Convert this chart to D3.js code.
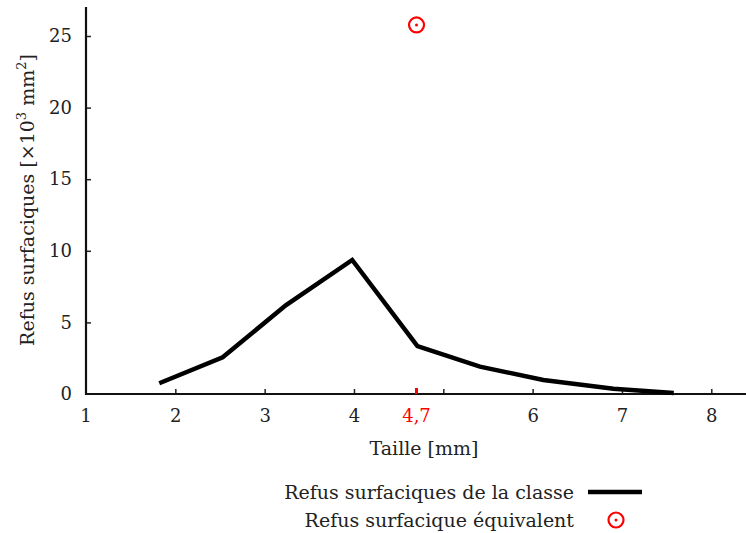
<!DOCTYPE html>
<html><head><meta charset="utf-8">
<script src="https://cdn.jsdelivr.net/npm/d3@7"></script>
<style>body{margin:0;background:#fff}svg{display:block}text{font-family:"DejaVu Serif",serif;fill:#222}</style>
</head><body><svg id="c" width="746" height="533"></svg>
<script>
const sizes = [1.82, 2.53, 3.24, 3.98, 4.71, 5.41, 6.12, 6.905, 7.58];
const refus = [0.75, 2.56, 6.21, 9.36, 3.35, 1.91, 0.98, 0.37, 0.07];
const equivSize = [4.7];
const equivRefus = [25.77];
const xTicks = [1, 2, 3, 4, 5, 6, 7, 8];
const yTicks = [0, 5, 10, 15, 20, 25];
const legendLabels = ["Refus surfaciques de la classe", "Refus surfacique équivalent"];

const TF = "18px", LF = "19px";
const svg = d3.select("#c");
const x = d3.scaleLinear().domain([1, 8]).range([86, 711.3]);
const y = d3.scaleLinear().domain([0, 25]).range([394, 36]);
const xEnd = 746, yTop = y(27.03);

// axes
const xAxis = svg.append("g").attr("transform", `translate(0,${y(0)})`)
  .call(d3.axisBottom(x).tickValues(xTicks.filter(t => t !== 1)).tickSize(-5).tickPadding(15)
    .tickFormat(d => d === 5 ? "" : d3.format("d")(d)));
xAxis.select(".domain").remove();
xAxis.selectAll("line").attr("stroke", "#222").attr("stroke-width", 1.5);
xAxis.selectAll("text").style("font-size", TF).attr("dy", "0.71em");
svg.append("text").attr("x", x(1)).attr("y", y(0) + 15).attr("dy", "0.71em")
  .attr("text-anchor", "middle").style("font-size", TF).text("1");

const yAxis = svg.append("g").attr("transform", `translate(${x(1)},0)`)
  .call(d3.axisLeft(y).tickValues(yTicks.filter(t => t !== 0)).tickSize(-5).tickPadding(14));
yAxis.select(".domain").remove();
yAxis.selectAll("line").attr("stroke", "#222").attr("stroke-width", 1.5);
yAxis.selectAll("text").style("font-size", TF);
svg.append("text").attr("x", x(1) - 14).attr("y", y(0)).attr("dy", "0.32em")
  .attr("text-anchor", "end").style("font-size", TF).text("0");

svg.append("line").attr("x1", x(1)).attr("x2", xEnd).attr("y1", y(0)).attr("y2", y(0))
  .attr("stroke", "#111").attr("stroke-width", 2.2);
svg.append("line").attr("x1", x(1)).attr("x2", x(1)).attr("y1", yTop).attr("y2", y(0) + 1.1)
  .attr("stroke", "#111").attr("stroke-width", 2.2);

// red tick & label
svg.append("line").attr("x1", x(equivSize[0])).attr("x2", x(equivSize[0]))
  .attr("y1", y(0)).attr("y2", y(0) - 6).attr("stroke", "red").attr("stroke-width", 3);
svg.append("text").attr("x", x(equivSize[0])).attr("y", y(0) + 15).attr("dy", "0.71em")
  .attr("text-anchor", "middle").style("font-size", TF).style("fill", "red").text("4,7");

// labels
svg.append("text").attr("x", 424).attr("y", 455).attr("text-anchor", "middle")
  .style("font-size", LF).text("Taille [mm]");
const yl = svg.append("text").attr("transform", "translate(34,200) rotate(-90)")
  .attr("text-anchor", "middle").style("font-size", LF);
yl.append("tspan").text("Refus surfaciques [×10");
yl.append("tspan").attr("dy", -8).style("font-size", "13px").text("3");
yl.append("tspan").attr("dy", 8).text(" mm");
yl.append("tspan").attr("dy", -8).style("font-size", "13px").text("2");
yl.append("tspan").attr("dy", 8).text("]");

// data line
const line = d3.line().x((d, i) => x(sizes[i])).y(d => y(d));
svg.append("path").datum(refus).attr("d", line).attr("fill", "none")
  .attr("stroke", "#000").attr("stroke-width", 4.5).attr("stroke-linejoin", "miter");

// equivalent point
function marker(g, cx, cy) {
  g.append("circle").attr("cx", cx).attr("cy", cy).attr("r", 7.5).attr("fill", "none")
    .attr("stroke", "red").attr("stroke-width", 2.2);
  g.append("circle").attr("cx", cx).attr("cy", cy).attr("r", 1.5).attr("fill", "red");
}
equivRefus.forEach((v, i) => marker(svg, x(equivSize[i]), y(v)));

// legend
svg.append("text").attr("x", 574).attr("y", 499).attr("text-anchor", "end")
  .style("font-size", LF).text(legendLabels[0]);
svg.append("line").attr("x1", 588).attr("x2", 642).attr("y1", 492).attr("y2", 492)
  .attr("stroke", "#000").attr("stroke-width", 4.5);
svg.append("text").attr("x", 574).attr("y", 527).attr("text-anchor", "end")
  .style("font-size", LF).text(legendLabels[1]);
marker(svg, 616, 520);
</script></body></html>
